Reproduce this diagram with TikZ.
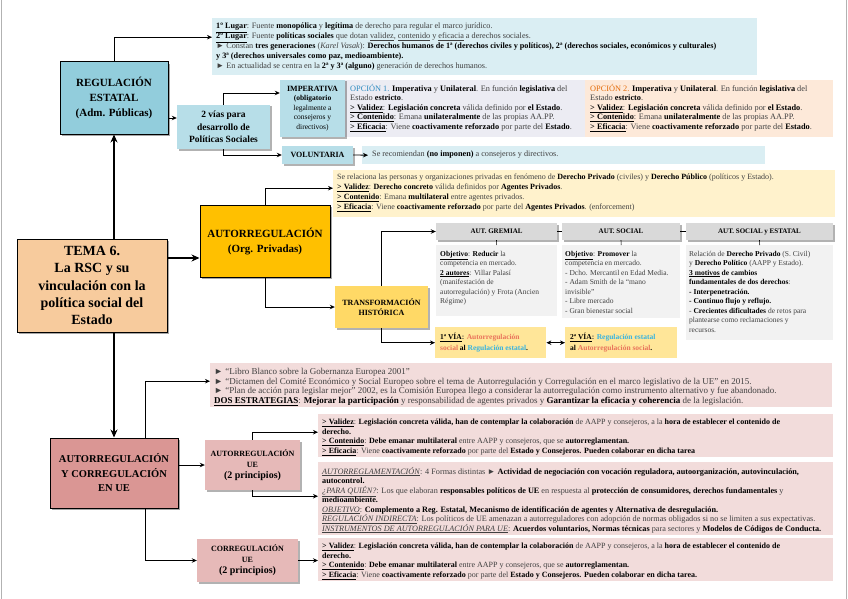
\documentclass[tikz,border=0pt]{standalone}
\usepackage{fontspec}
\setmainfont{Liberation Serif}
\usetikzlibrary{arrows.meta,shadows,calc}
\definecolor{tone}{HTML}{DAEEF3}
\definecolor{regc}{HTML}{92CDDC}
\definecolor{lblue}{HTML}{B7DEE8}
\definecolor{opa}{HTML}{ECECF3}
\definecolor{opb}{HTML}{FDE9D9}
\definecolor{yel}{HTML}{FFF2CC}
\definecolor{orng}{HTML}{FFC000}
\definecolor{transc}{HTML}{FFD966}
\definecolor{viac}{HTML}{FFE699}
\definecolor{hdr}{HTML}{D9D9D9}
\definecolor{pnlc}{HTML}{F2F2F2}
\definecolor{temac}{HTML}{F7CB9D}
\definecolor{pinkp}{HTML}{F2DCDB}
\definecolor{bbc}{HTML}{DA9694}
\definecolor{uec}{HTML}{E6B9B8}
\definecolor{txtg}{HTML}{404040}
\definecolor{blu}{HTML}{2E8BC0}
\definecolor{orgx}{HTML}{E46C0A}
\definecolor{salm}{HTML}{E9735B}
\definecolor{cyanx}{HTML}{37B3E0}
\newcommand{\tb}[1]{\textbf{\textcolor{black}{#1}}}
\newcommand{\tu}[1]{\underline{#1}}
\begin{document}
\begin{tikzpicture}[x=1pt,y=-1pt,
  box/.style={rectangle, inner sep=0pt, align=center, text=black},
  hb/.style={box, draw=black, line width=1pt, drop shadow={shadow xshift=2pt,shadow yshift=-2pt,opacity=0.35,fill=black}},
  sb/.style={box, drop shadow={shadow xshift=1.5pt,shadow yshift=-1.5pt,opacity=0.3,fill=black}},
  pnl/.style={rectangle, inner sep=0pt, anchor=north west},
  txt/.style={anchor=north west, inner sep=0pt, align=left, text=txtg},
  arr/.style={-{Stealth[length=5pt,width=4.5pt]}, line width=0.8pt},
  tarr/.style={-{Stealth[length=8pt,width=7pt]}, line width=1.6pt},
  darr/.style={{Stealth[length=5pt,width=4.5pt]}-{Stealth[length=5pt,width=4.5pt]}, line width=0.8pt}]
\useasboundingbox (0,0) rectangle (848,599);
\draw[gray!60, line width=0.6pt] (1,0) -- (1,599);
\draw[gray!60, line width=0.6pt] (846.5,0) -- (846.5,599);

% ---------- panels ----------
\node[pnl, fill=tone, minimum width=545pt, minimum height=57pt] (t1) at (212,18) {};
\node[pnl, fill=opa, minimum width=240pt, minimum height=57pt] (op1) at (345,80) {};
\node[pnl, fill=opb, minimum width=248pt, minimum height=57pt] (op2) at (585,80) {};
\node[pnl, fill=tone, minimum width=403pt, minimum height=18pt] (volp) at (362,146) {};
\node[pnl, fill=yel, minimum width=502pt, minimum height=47pt] (p1) at (333,170) {};
\node[pnl, fill=pnlc, minimum width=121pt, minimum height=71pt] (pg) at (436,245) {};
\node[pnl, fill=pnlc, minimum width=118pt, minimum height=73pt] (ps) at (562,245) {};
\node[pnl, fill=pnlc, minimum width=147pt, minimum height=95pt] (pe) at (686,245) {};
\node[pnl, fill=viac, minimum width=111pt, minimum height=31pt] (via1) at (435,327) {};
\node[pnl, fill=viac, minimum width=112pt, minimum height=31pt] (via2) at (565,327) {};
\node[pnl, fill=pinkp, minimum width=622pt, minimum height=44pt] (libro) at (210,363) {};
\node[pnl, fill=pinkp, minimum width=515pt, minimum height=43pt] (u1) at (318,414) {};
\node[pnl, fill=pinkp, minimum width=515pt, minimum height=73pt] (u2) at (318,462) {};
\node[pnl, fill=pinkp, minimum width=515pt, minimum height=43pt] (c1) at (318,538) {};

% ---------- panel texts ----------
\node[txt, font=\fontsize{8.2}{10}\selectfont] (t1t) at (216,21.5) {\strut\tb{\tu{1º Lugar}}: Fuente \tb{monopólica} y \tb{legítima} de derecho para regular el marco jurídico.\\
\tb{\tu{2º Lugar}}: Fuente \tb{políticas sociales} que dotan \tu{validez}, \tu{contenido} y \tu{eficacia} a derechos sociales.\\
► Constan \tb{tres generaciones} (\textit{Karel Vasak}): \tb{Derechos humanos de 1ª (derechos civiles y políticos), 2ª (derechos sociales, económicos y culturales)}\\
\tb{y 3ª (derechos universales como paz, medioambiente).}\\
► En actualidad se centra en la \tb{2ª y 3ª (alguno)} generación de derechos humanos.};

\node[txt, font=\fontsize{8.3}{9.5}\selectfont] (op1t) at (350,84) {\strut\textcolor{blu}{OPCIÓN 1.} \tb{Imperativa} y \tb{Unilateral}. En función \tb{legislativa} del\\
Estado \tb{estricto}.\\
\tb{\tu{> Validez}}: \tb{Legislación concreta} válida definido por \tb{el Estado}.\\
\tb{\tu{> Contenido}}: Emana \tb{unilateralmente} de las propias AA.PP.\\
\tb{\tu{> Eficacia}}: Viene \tb{coactivamente reforzado} por parte del \tb{Estado}.};

\node[txt, font=\fontsize{8.3}{9.5}\selectfont] (op2t) at (590,84) {\strut\textcolor{orgx}{OPCIÓN 2.} \tb{Imperativa} y \tb{Unilateral}. En función \tb{legislativa} del\\
Estado \tb{estricto}.\\
\tb{\tu{> Validez}}: \tb{Legislación concreta} válida definido por \tb{el Estado}.\\
\tb{\tu{> Contenido}}: Emana \tb{unilateralmente} de las propias AA.PP.\\
\tb{\tu{> Eficacia}}: Viene \tb{coactivamente reforzado} por parte del \tb{Estado}.};

\node[txt, anchor=west, font=\fontsize{8.2}{9.5}\selectfont] (volpt) at (372,155) {Se recomiendan \tb{(no imponen)} a consejeros y directivos.};

\node[txt, font=\fontsize{8}{10}\selectfont] (p1t) at (337,172.5) {\strut Se relaciona las personas y organizaciones privadas en fenómeno de \tb{Derecho Privado} (civiles) y \tb{Derecho Público} (políticos y Estado).\\
\tb{\tu{> Validez}}: \tb{Derecho concreto} válida definidos por \tb{Agentes Privados}.\\
\tb{\tu{> Contenido}}: Emana \tb{multilateral} entre agentes privados.\\
\tb{\tu{> Eficacia}}: Viene \tb{coactivamente reforzado} por parte del \tb{Agentes Privados}. (enforcement)};

\node[txt, font=\fontsize{7.5}{9.5}\selectfont] (pgt) at (440,249.3) {\strut\tb{\tu{Objetivo}}: \tb{Reducir} la\\ competencia en mercado.\\ \tb{\tu{2 autores}}: Villar Palasí\\ (manifestación de\\ autorregulación) y Frota (Ancien\\ Régime)};
\node[txt, font=\fontsize{7.5}{9.5}\selectfont] (pst) at (565,249.3) {\strut\tb{\tu{Objetivo}}: \tb{Promover} la\\ competencia en mercado.\\ - Dcho. Mercantil en Edad Media.\\ - Adam Smith de la “mano\\ invisible”\\ - Libre mercado\\ - Gran bienestar social};
\node[txt, font=\fontsize{7.5}{9.5}\selectfont] (pet) at (689,249.3) {\strut Relación de \tb{Derecho Privado} (S. Civil)\\ y \tb{Derecho Político} (AAPP y Estado).\\ \tb{\tu{3 motivos} de cambios}\\ \tb{fundamentales de dos derechos}:\\ \tb{- Interpenetración.}\\ \tb{- Continuo flujo y reflujo.}\\ - \tb{Crecientes dificultades} de retos para\\ plantearse como reclamaciones y\\ recursos.};

\node[txt, font=\fontsize{7.5}{11}\selectfont\bfseries] (via1t) at (440,331.8) {\strut\tb{\tu{1ª VÍA}}: \textcolor{salm}{Autorregulación}\\ \textcolor{salm}{social} \tb{al} \textcolor{cyanx}{Regulación estatal}\tb{.}};
\node[txt, font=\fontsize{7.5}{11}\selectfont\bfseries] (via2t) at (570,331.8) {\strut\tb{\tu{2ª VÍA}}: \textcolor{cyanx}{Regulación estatal}\\ \tb{al} \textcolor{salm}{Autorregulación social}\tb{.}};

\node[txt, font=\fontsize{9}{9.6}\selectfont] (librot) at (214,367.6) {\strut ► “Libro Blanco sobre la Gobernanza Europea 2001”\\
► “Dictamen del Comité Económico y Social Europeo sobre el tema de Autorregulación y Corregulación en el marco legislativo de la UE” en 2015.\\
► “Plan de acción para legislar mejor” 2002, es la Comisión Europea llego a considerar la autorregulación como instrumento alternativo y fue abandonado.\\
\tb{\tu{DOS ESTRATEGIAS}}: \tb{Mejorar la participación} y responsabilidad de agentes privados y \tb{Garantizar la eficacia y coherencia} de la legislación.};

\node[txt, font=\fontsize{8}{9.5}\selectfont] (u1t) at (322,417.9) {\strut\tb{\tu{> Validez}}: \tb{Legislación concreta válida, han de contemplar la colaboración} de AAPP y consejeros, a la \tb{hora de establecer el contenido de}\\
\tb{derecho.}\\
\tb{\tu{> Contenido}}: \tb{Debe emanar multilateral} entre AAPP y consejeros, que se \tb{autorreglamentan.}\\
\tb{\tu{> Eficacia}}: Viene \tb{coactivamente reforzado} por parte del \tb{Estado y Consejeros. Pueden colaborar en dicha tarea}};

\node[txt, font=\fontsize{8.2}{9.5}\selectfont] (u2t) at (322,466.9) {\strut\tu{\textit{AUTORREGLAMENTACIÓN}}: 4 Formas distintas ► \tb{Actividad de negociación con vocación reguladora, autoorganización, autovinculación,}\\
\tb{autocontrol.}\\
\tu{\textit{¿PARA QUIÉN?}}: Los que elaboran \tb{responsables políticos de UE} en respuesta al \tb{protección de consumidores, derechos fundamentales} y\\
\tb{medioambiente.}\\
\tu{\textit{OBJETIVO}}: \tb{Complemento a Reg. Estatal, Mecanismo de identificación de agentes y Alternativa de desregulación.}\\
\tu{\textit{REGULACIÓN INDIRECTA}}: Los políticos de UE amenazan a autorreguladores con adopción de normas obligados si no se limiten a sus expectativas.\\
\tu{\textit{INSTRUMENTOS DE AUTORREGULACIÓN PARA UE}}: \tb{Acuerdos voluntarios, Normas técnicas} para sectores y \tb{Modelos de Códigos de Conducta.}};

\node[txt, font=\fontsize{8}{9.5}\selectfont] (c1t) at (322,541.9) {\strut\tb{\tu{> Validez}}: \tb{Legislación concreta válida, han de contemplar la colaboración} de AAPP y consejeros, a la \tb{hora de establecer el contenido de}\\
\tb{derecho.}\\
\tb{\tu{> Contenido}}: \tb{Debe emanar multilateral} entre AAPP y consejeros, que se \tb{autorreglamentan.}\\
\tb{\tu{> Eficacia}}: Viene \tb{coactivamente reforzado} por parte del \tb{Estado y Consejeros. Pueden colaborar en dicha tarea.}};

% ---------- boxes ----------
\node[hb, fill=regc, minimum width=108pt, minimum height=72pt, font=\fontsize{11}{15}\selectfont\bfseries] (reg) at (114,98) {REGULACIÓN\\ ESTATAL\\ (Adm. Públicas)};
\node[sb, fill=lblue, minimum width=93pt, minimum height=44pt, font=\fontsize{9.5}{12.5}\selectfont\bfseries] (vias) at (223.5,127) {2 vías para\\ desarrollo de\\ Políticas Sociales};
\node[sb, fill=lblue, minimum width=65pt, minimum height=57pt, font=\fontsize{7.5}{9.5}\selectfont] (imp) at (312.5,108.5) {{\fontsize{8}{9.5}\selectfont\bfseries IMPERATIVA}\\ \textbf{(obligatorio}\\ legalmente a\\ consejeros y\\ directivos)};
\node[sb, fill=lblue, minimum width=71pt, minimum height=18pt, font=\fontsize{8}{9.5}\selectfont\bfseries] (vol) at (317.5,155) {VOLUNTARIA};
\node[hb, fill=orng, minimum width=130pt, minimum height=72pt, font=\fontsize{11}{15}\selectfont\bfseries] (ar) at (265,241) {AUTORREGULACIÓN\\ (Org. Privadas)};
\node[sb, fill=transc, minimum width=93pt, minimum height=42pt, font=\fontsize{8}{10}\selectfont\bfseries] (trans) at (381.5,307) {TRANSFORMACIÓN\\ HISTÓRICA};
\node[sb, fill=hdr, minimum width=121pt, minimum height=17pt, font=\fontsize{7}{9}\selectfont\bfseries] (hg) at (496.5,231.5) {AUT. GREMIAL};
\node[sb, fill=hdr, minimum width=118pt, minimum height=17pt, font=\fontsize{7}{9}\selectfont\bfseries] (hs) at (621,231.5) {AUT. SOCIAL};
\node[sb, fill=hdr, minimum width=147pt, minimum height=17pt, font=\fontsize{7}{9}\selectfont\bfseries] (he) at (759.5,231.5) {AUT. SOCIAL y ESTATAL};
\node[hb, fill=temac, minimum width=150pt, minimum height=93pt, font=\fontsize{14}{17.3}\selectfont\bfseries] (tema) at (92,285.5) {TEMA 6.\\ La RSC y su\\ vinculación con la\\ política social del\\ Estado};
\node[hb, fill=bbc, minimum width=128pt, minimum height=70pt, font=\fontsize{10.5}{14.5}\selectfont\bfseries] (bb) at (114,473) {AUTORREGULACIÓN\\ Y CORREGULACIÓN\\ EN UE};
\node[sb, fill=uec, minimum width=95pt, minimum height=50pt, font=\fontsize{8}{11}\selectfont\bfseries] (ue) at (252.5,465) {AUTORREGULACIÓN\\ UE\\ {\fontsize{10}{11}\selectfont (2 principios)}};
\node[sb, fill=uec, minimum width=101pt, minimum height=43pt, font=\fontsize{8}{11}\selectfont\bfseries] (correg) at (247.5,560.5) {CORREGULACIÓN\\ UE\\ {\fontsize{10}{11}\selectfont (2 principios)}};

% ---------- connectors ----------
\draw[arr] (reg.north) |- ([yshift=9.5pt]t1.west);
\draw[tarr] (tema.north -| reg.south) -- (reg.south);
\draw[arr] ([yshift=-20pt]reg.east) -- ([yshift=-20pt]reg.east -| vias.west);
\draw[arr] (vias.north) |- ([yshift=15.5pt]imp.west);
\draw[arr] (vias.south) |- (vol.west);
\draw[arr] (vol.east) -- ([xshift=6pt]volp.west);
\draw[tarr] ([yshift=27.5pt]tema.east) -- ([yshift=27.5pt]tema.east -| ar.west);
\draw[arr] (ar.north) |- ([yshift=5.5pt]p1.west);
\draw[arr] (ar.south) |- (trans.west);
\draw[arr] (trans.north) |- (hg.west);
\draw[arr] (trans.south) |- (via1.west);
\draw[darr] (via1.east) -- (via2.west);
\draw[line width=0.6pt] (hg.east) -- (hs.west);
\draw[line width=0.6pt] (hs.east) -- (he.west);
\draw[line width=0.6pt] (hg.south) -- (pg.north);
\draw[line width=0.6pt] (hs.south) -- (ps.north);
\draw[line width=0.6pt] (he.south) -- (pe.north);
\draw[tarr] (tema.south -| bb.north) -- (bb.north);
\draw[arr] ([xshift=31pt]bb.north) |- ([yshift=4pt]libro.west);
\draw[arr] (bb.east |- ue.west) -- (ue.west);
\draw[arr] (ue.north) |- ([yshift=3.5pt]u1.west);
\draw[arr] (ue.south) |- ([yshift=2.5pt]u2.west);
\draw[arr] ([xshift=31pt]bb.south) |- (correg.west);
\draw[arr] (correg.east) -- (correg.east -| c1.west);
\end{tikzpicture}
\end{document}
